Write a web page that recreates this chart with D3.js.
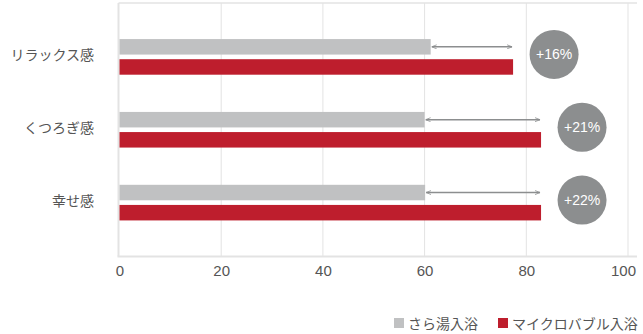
<!DOCTYPE html>
<html><head><meta charset="utf-8">
<script src="https://cdn.jsdelivr.net/npm/d3@7"></script>
<style>
html,body{margin:0;padding:0;background:#fff;}
svg{display:block;font-family:"Noto Sans CJK JP","Noto Sans",sans-serif;}
</style></head>
<body>
<svg id="c" width="643" height="334"></svg>
<script>
const categories = ["リラックス感", "くつろぎ感", "幸せ感"];
const seriesNames = ["さら湯入浴", "マイクロバブル入浴"];
const plainBath = [61.2, 60.0, 60.1];
const microBubble = [77.4, 82.9, 82.9];
const increaseLabels = ["+16%", "+21%", "+22%"];
const xTicks = [0, 20, 40, 60, 80, 100];
const colors = ["#c0c1c2", "#be1e2d"];

(function () {
const svg = d3.select("#c");
const plotLeft = 118.5, plotTop = 3, plotBottom = 256.5, plotRight = 637;
const x = d3.scaleLinear().domain([0, 100]).range([119.5, 628]);
const y = d3.scaleBand().domain(categories).range([plotTop, plotBottom]).paddingInner(0.511).paddingOuter(0.495);
const sub = d3.scaleBand().domain(seriesNames).range([0, y.bandwidth()]).paddingInner(0.23);

// grid
svg.append("g").selectAll("line").data(xTicks.slice(1)).join("line")
  .attr("x1", d => x(d)).attr("x2", d => x(d)).attr("y1", plotTop).attr("y2", plotBottom)
  .attr("stroke", "#e3e3e3").attr("stroke-width", 1);
// frame lines
svg.append("line").attr("x1", plotLeft).attr("x2", plotRight).attr("y1", plotTop).attr("y2", plotTop)
  .attr("stroke", "#e3e3e3").attr("stroke-width", 1.5);
svg.append("line").attr("x1", plotLeft).attr("x2", plotLeft).attr("y1", plotTop).attr("y2", plotBottom)
  .attr("stroke", "#e3e3e3").attr("stroke-width", 2);
svg.append("line").attr("x1", plotLeft - 1).attr("x2", plotRight).attr("y1", plotBottom).attr("y2", plotBottom)
  .attr("stroke", "#e3e3e3").attr("stroke-width", 2);

// x axis labels
const xAxis = d3.axisBottom(x).tickValues(xTicks).tickSize(0).tickPadding(9);
const gx = svg.append("g").attr("transform", `translate(0,${plotBottom})`).call(xAxis);
gx.select(".domain").remove();
gx.selectAll("text").attr("fill", "#555").attr("font-size", 15)
  .attr("font-family", "'Liberation Sans', Arial, sans-serif").attr("font-weight", 300);
gx.selectAll(".tick").filter(d => d === 100).select("text").attr("dx", -5);

// category labels
svg.append("g").selectAll("text").data(categories).join("text")
  .attr("x", 94).attr("y", d => y(d) + y.bandwidth() / 2 - 2.5)
  .attr("text-anchor", "end").attr("dominant-baseline", "central")
  .attr("font-size", 14).attr("fill", "#555").text(d => d);

// bars
const series = [plainBath, microBubble];
series.forEach((vals, si) => {
  svg.append("g").selectAll("rect").data(categories).join("rect")
    .attr("x", x(0)).attr("y", d => y(d) + sub(seriesNames[si]))
    .attr("width", (d, i) => x(vals[i]) - x(0)).attr("height", sub.bandwidth())
    .attr("fill", colors[si]);
});

// arrows
const defs = svg.append("defs");
["s", "e"].forEach(k => {
  defs.append("marker").attr("id", "ar" + k).attr("viewBox", "0 0 10 10")
    .attr("refX", k === "e" ? 10 : 0).attr("refY", 5).attr("markerWidth", 5).attr("markerHeight", 5)
    .attr("orient", "auto").attr("markerUnits", "userSpaceOnUse")
    .append("path").attr("d", k === "e" ? "M0,1L10,5L0,9" : "M10,1L0,5L10,9")
    .attr("fill", "none").attr("stroke", "#8c8e8f").attr("stroke-width", 1.6);
});
svg.append("g").selectAll("line").data(categories).join("line")
  .attr("x1", (d, i) => x(plainBath[i]) + 1).attr("x2", (d, i) => x(microBubble[i]) - 1)
  .attr("y1", d => y(d) + sub(seriesNames[0]) + sub.bandwidth() / 2)
  .attr("y2", d => y(d) + sub(seriesNames[0]) + sub.bandwidth() / 2)
  .attr("stroke", "#8c8e8f").attr("stroke-width", 1.5)
  .attr("marker-start", "url(#ars)").attr("marker-end", "url(#are)");

// circles
const cg = svg.append("g").selectAll("g").data(categories).join("g")
  .attr("transform", (d, i) => `translate(${x(microBubble[i]) + 41},${y(d) + y.bandwidth() / 2 - 2.5})`);
cg.append("circle").attr("r", 24.5).attr("fill", "#8c8e8f");
cg.append("text").attr("text-anchor", "middle").attr("dominant-baseline", "central")
  .attr("fill", "#fff").attr("font-size", 14).attr("font-weight", 300)
  .attr("font-family", "'Liberation Sans', Arial, sans-serif")
  .text((d, i) => increaseLabels[i]);

// legend
const legendX = [394, 498];
const lg = svg.append("g").selectAll("g").data(seriesNames).join("g")
  .attr("transform", (d, i) => `translate(${legendX[i]},323)`);
lg.append("rect").attr("x", 0).attr("y", -5).attr("width", 10).attr("height", 10)
  .attr("fill", (d, i) => colors[i]);
lg.append("text").attr("x", 14).attr("dominant-baseline", "central")
  .attr("font-size", 14).attr("fill", "#555").text(d => d);
})();
</script>
</body></html>
